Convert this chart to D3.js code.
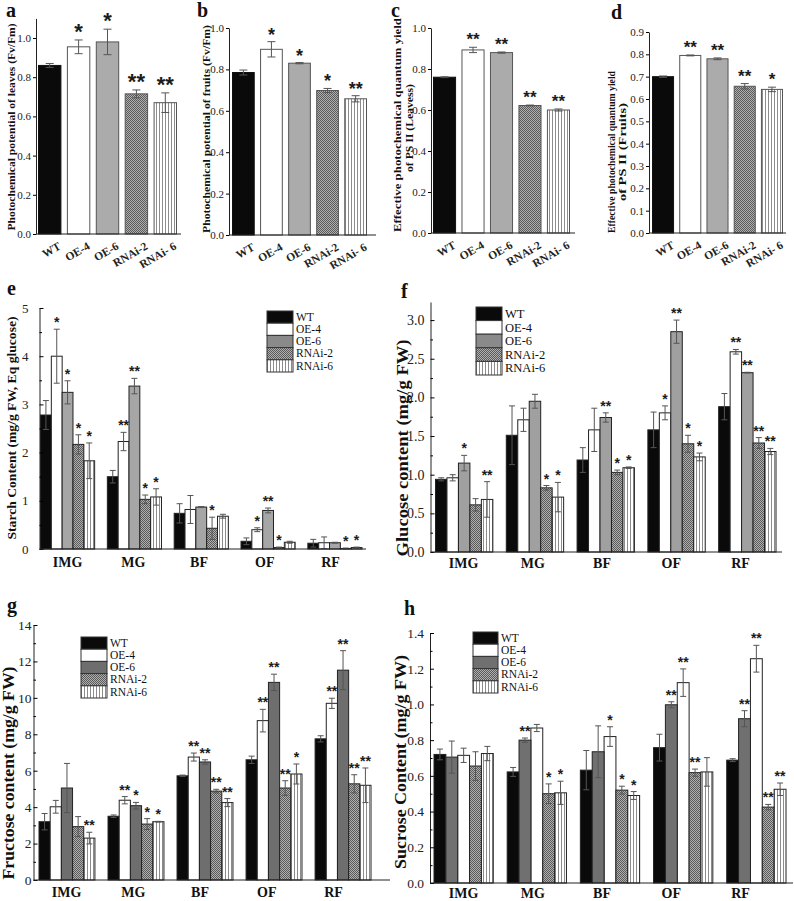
<!DOCTYPE html>
<html><head><meta charset="utf-8">
<script src="https://cdn.jsdelivr.net/npm/d3@7"></script>
<style>
body{margin:0;background:#fff}
svg{display:block}
text{font-family:"Liberation Serif","Times New Roman",serif;fill:#111}
.star{font-family:"Liberation Sans",Arial,sans-serif;font-weight:bold;fill:#1a1a1a;opacity:0.99}
</style>
</head><body>
<svg id="c" width="794" height="901"></svg>
<script>
// ---------------- DATA ----------------
const genotypes = ["WT","OE-4","OE-6","RNAi-2","RNAi-6"];
const genotypeTicks = ["WT","OE-4","OE-6","RNAi-2","RNAi- 6"];
const stages = ["IMG","MG","BF","OF","RF"];

// a: photochemical potential of leaves (Fv/Fm)
const fvfmLeaves    = [0.86, 0.955, 0.98, 0.715, 0.67];
const fvfmLeavesErr = [0.01, 0.035, 0.065, 0.02, 0.05];
const fvfmLeavesSig = ["", "*", "*", "**", "**"];
// b: photochemical potential of fruits (Fv/Fm)
const fvfmFruits    = [0.785, 0.897, 0.83, 0.698, 0.658];
const fvfmFruitsErr = [0.012, 0.037, 0.003, 0.01, 0.015];
const fvfmFruitsSig = ["", "*", "*", "*", "**"];
// c: effective quantum yield of PSII (leaves)
const psiiLeaves    = [0.76, 0.893, 0.88, 0.622, 0.60];
const psiiLeavesErr = [0.002, 0.013, 0.003, 0.002, 0.005];
const psiiLeavesSig = ["", "**", "**", "**", "**"];
// d: effective quantum yield of PSII (fruits)
const psiiFruits    = [0.70, 0.795, 0.78, 0.657, 0.643];
const psiiFruitsErr = [0.003, 0.002, 0.004, 0.012, 0.01];
const psiiFruitsSig = ["", "**", "**", "**", "*"];

// e: starch (rows = genotypes, columns = stages)
const starch = [
  [2.78, 1.50, 0.74, 0.16, 0.12],
  [4.00, 2.23, 0.82, 0.40, 0.13],
  [3.25, 3.38, 0.87, 0.80, 0.13],
  [2.17, 1.03, 0.43, 0.03, 0.01],
  [1.83, 1.08, 0.68, 0.14, 0.03]];
const starchErr = [
  [0.30, 0.13, 0.20, 0.07, 0.08],
  [0.56, 0.19, 0.29, 0.04, 0.12],
  [0.24, 0.16, 0.01, 0.05, 0.01],
  [0.20, 0.09, 0.23, 0.01, 0.01],
  [0.37, 0.17, 0.04, 0.02, 0.01]];
const starchSig = [
  ["", "", "", "", ""],
  ["*", "**", "", "*", ""],
  ["*", "**", "", "**", ""],
  ["*", "*", "*", "*", "*"],
  ["*", "*", "", "", "*"]];

// f: glucose
const glucose = [
  [0.94, 1.51, 1.19, 1.58, 1.88],
  [0.96, 1.71, 1.58, 1.80, 2.59],
  [1.15, 1.95, 1.74, 2.85, 2.32],
  [0.61, 0.83, 1.03, 1.40, 1.41],
  [0.68, 0.71, 1.09, 1.23, 1.30]];
const glucoseErr = [
  [0.02, 0.38, 0.16, 0.23, 0.17],
  [0.04, 0.15, 0.28, 0.09, 0.03],
  [0.10, 0.09, 0.06, 0.15, 0.005],
  [0.08, 0.03, 0.03, 0.11, 0.07],
  [0.23, 0.19, 0.01, 0.05, 0.04]];
const glucoseSig = [
  ["", "", "", "", ""],
  ["", "", "", "*", "**"],
  ["*", "", "**", "**", "**"],
  ["", "*", "*", "*", "**"],
  ["**", "*", "*", "*", "**"]];

// g: fructose
const fructose = [
  [3.20, 3.50, 5.72, 6.60, 7.75],
  [4.02, 4.38, 6.75, 8.75, 9.70],
  [5.05, 4.08, 6.48, 10.85, 11.52],
  [2.93, 3.07, 4.88, 5.05, 5.28],
  [2.30, 3.20, 4.25, 5.82, 5.20]];
const fructoseErr = [
  [0.45, 0.07, 0.04, 0.20, 0.17],
  [0.35, 0.20, 0.22, 0.62, 0.28],
  [1.35, 0.18, 0.12, 0.45, 1.07],
  [0.55, 0.30, 0.10, 0.40, 0.50],
  [0.32, 0.02, 0.22, 0.55, 0.95]];
const fructoseSig = [
  ["", "", "", "", ""],
  ["", "**", "**", "**", "**"],
  ["", "*", "**", "**", "**"],
  ["", "*", "**", "**", "**"],
  ["**", "*", "**", "*", "**"]];

// h: sucrose (bars drawn in order WT, OE-6, OE-4, RNAi-2, RNAi-6)
const sucroseOrder = ["WT","OE-6","OE-4","RNAi-2","RNAi-6"];
const sucrose = [
  [0.720, 0.622, 0.632, 0.758, 0.688],
  [0.715, 0.868, 0.820, 1.122, 1.256],
  [0.705, 0.800, 0.735, 0.998, 0.920],
  [0.655, 0.500, 0.520, 0.618, 0.425],
  [0.725, 0.505, 0.490, 0.622, 0.525]];
const sucroseErr = [
  [0.030, 0.025, 0.110, 0.075, 0.008],
  [0.040, 0.020, 0.055, 0.077, 0.075],
  [0.090, 0.012, 0.145, 0.017, 0.045],
  [0.080, 0.055, 0.022, 0.020, 0.015],
  [0.040, 0.065, 0.022, 0.080, 0.035]];
const sucroseSig = [
  ["", "", "", "", ""],
  ["", "", "*", "**", "**"],
  ["", "**", "", "**", "**"],
  ["", "*", "*", "**", "**"],
  ["", "*", "*", "", "**"]];

// ---------------- DRAWING ----------------
const svg = d3.select("#c");
const defs = svg.append("defs");
const pc = defs.append("pattern").attr("id","checker").attr("width",2).attr("height",2).attr("patternUnits","userSpaceOnUse");
pc.append("rect").attr("width",2).attr("height",2).attr("fill","#b0b0b0");
pc.append("rect").attr("width",1).attr("height",1).attr("fill","#5a5a5a");
pc.append("rect").attr("x",1).attr("y",1).attr("width",1).attr("height",1).attr("fill","#5a5a5a");
const pv = defs.append("pattern").attr("id","vlines").attr("width",3).attr("height",3).attr("patternUnits","userSpaceOnUse");
pv.append("rect").attr("width",3).attr("height",3).attr("fill","#fff");
pv.append("rect").attr("width",1).attr("height",3).attr("fill","#8c8c8c");

function fillOf(name, oe6){
  return {"WT":"#0a0a0a","OE-4":"#ffffff","OE-6":oe6,"RNAi-2":"url(#checker)","RNAi-6":"url(#vlines)"}[name];
}

function panelLabel(t,x,y){
  svg.append("text").attr("x",x).attr("y",y).attr("font-size",20).attr("font-weight","bold").text(t);
}

// lines: [{text, dx (offset across), len (text length)}]
function yTitle(lines, x, y, size){
  lines.forEach(l=>{
    svg.append("text").attr("transform",`translate(${x + (l.dx||0)},${y + (l.dy||0)}) rotate(-90)`)
      .attr("text-anchor","middle").attr("font-weight","bold").attr("font-size",size)
      .attr("textLength",l.len).attr("lengthAdjust","spacingAndGlyphs").text(l.text);
  });
}

function stars(g, x, y, s, size, off){
  g.append("text").attr("class","star").attr("x",x).attr("y",y - off).attr("text-anchor","middle")
    .attr("font-size",size).text(s);
}

function errBar(g, cx, y, v, e, cap, color){
  const y1 = y(v+e), y2 = y(v-e);
  g.append("line").attr("x1",cx).attr("x2",cx).attr("y1",y1).attr("y2",y2).attr("stroke",color);
  g.append("line").attr("x1",cx-cap).attr("x2",cx+cap).attr("y1",y1).attr("y2",y1).attr("stroke",color);
  g.append("line").attr("x1",cx-cap).attr("x2",cx+cap).attr("y1",y2).attr("y2",y2).attr("stroke",color);
}

function simplePanel(c){
  const g = svg.append("g");
  const y = d3.scaleLinear().domain([0,c.yMax]).range([c.bottom,c.top]);
  const x = d3.scaleBand().domain(genotypes).range(c.band).paddingInner(0.19).paddingOuter(0);
  g.selectAll("rect.bar").data(genotypes).join("rect").attr("class","bar")
    .attr("x",d=>x(d)+0.5).attr("width",x.bandwidth()-1)
    .attr("y",(d,i)=>y(c.values[i])).attr("height",(d,i)=>c.bottom-y(c.values[i]))
    .attr("fill",d=>fillOf(d,"#ababab")).attr("stroke",d=>d==="WT"?"#111":"#555").attr("stroke-width",1);
  genotypes.forEach((d,i)=>{
    const cx = x(d)+x.bandwidth()/2;
    errBar(g,cx,y,c.values[i],c.errs[i],4,"#555");
    if(c.sigs[i]) stars(g,cx,y(c.values[i]+c.errs[i]),c.sigs[i],c.starSize,c.starOff);
  });
  const ya = g.append("g").attr("transform",`translate(${c.left},0)`)
    .call(d3.axisLeft(y).tickValues(c.ticks).tickFormat(d3.format(".1f")).tickSize(3).tickSizeOuter(0).tickPadding(2));
  ya.selectAll("text").attr("font-size",11).attr("font-family","Liberation Serif, serif").style("fill","#222");
  ya.select(".domain").attr("stroke","#222");
  const xa = g.append("g").attr("transform",`translate(0,${c.bottom})`)
    .call(d3.axisBottom(x).tickSize(0).tickSizeOuter(0).tickFormat((d,i)=>genotypeTicks[i]));
  xa.select(".domain").remove();
  xa.selectAll(".tick text").attr("x",0).attr("y",0).attr("dy","0.35em")
    .attr("text-anchor","end").attr("font-size",11.5).attr("font-weight","bold")
    .attr("font-family","Liberation Serif, serif").style("fill","#222")
    .attr("transform","translate(10,11) rotate(-30)");
  g.append("line").attr("x1",c.left).attr("x2",c.right).attr("y1",c.bottom).attr("y2",c.bottom).attr("stroke","#222");
}

function groupPanel(c){
  const g = svg.append("g");
  const y = d3.scaleLinear().domain([0,c.yMax]).range([c.bottom,c.top]);
  const x0 = d3.scaleBand().domain(stages).range(c.band).paddingInner(0.19).paddingOuter(0);
  const x1 = d3.scaleBand().domain(c.order).range([0,x0.bandwidth()]);
  const lab = d3.scalePoint().domain(stages).range(c.labelRange);
  const data = [];
  genotypes.forEach((gn,gi)=>stages.forEach((s,si)=>data.push({g:gn,s:s,v:c.values[gi][si],e:c.errs[gi][si],sig:c.sigs[gi][si]})));
  g.selectAll("rect.bar").data(data).join("rect").attr("class","bar")
    .attr("x",d=>x0(d.s)+x1(d.g)).attr("width",x1.bandwidth())
    .attr("y",d=>y(d.v)).attr("height",d=>c.bottom-y(d.v))
    .attr("fill",d=>fillOf(d.g,c.oe6)).attr("stroke","#222").attr("stroke-width",1);
  data.forEach(d=>{
    const cx = x0(d.s)+x1(d.g)+x1.bandwidth()/2;
    errBar(g,cx,y,d.v,d.e,3,"#555");
    if(d.sig) stars(g,cx,y(d.v+d.e),d.sig,14,2);
  });
  const ya = g.append("g").attr("transform",`translate(${c.left},0)`)
    .call(d3.axisLeft(y).tickValues(c.ticks).tickFormat(c.fmt).tickSizeInner(-4).tickSizeOuter(0).tickPadding(c.pad));
  ya.selectAll("text").attr("font-size",c.tickFont).attr("font-family","Liberation Serif, serif").style("fill","#222");
  ya.select(".domain").attr("stroke","#222");
  const ym = g.append("g").attr("transform",`translate(${c.left},0)`)
    .call(d3.axisLeft(y).tickValues(c.minor).tickFormat("").tickSizeInner(-2.5).tickSizeOuter(0));
  ym.select(".domain").remove();
  const xa = g.append("g").attr("transform",`translate(0,${c.bottom})`)
    .call(d3.axisBottom(lab).tickSize(0).tickPadding(c.labPad));
  xa.select(".domain").remove();
  xa.selectAll("text").attr("font-size",14).attr("font-weight","bold").attr("font-family","Liberation Serif, serif").style("fill","#111");
  g.append("line").attr("x1",c.left).attr("x2",c.right).attr("y1",c.bottom).attr("y2",c.bottom).attr("stroke","#222");
  // legend
  const lg = g.append("g").attr("transform",`translate(${c.legend[0]},${c.legend[1]})`);
  genotypes.forEach((gn,i)=>{
    lg.append("rect").attr("x",0).attr("y",i*c.legRow).attr("width",c.legW).attr("height",c.legRow)
      .attr("fill",fillOf(gn,c.oe6Leg)).attr("stroke","#333");
    lg.append("text").attr("x",c.legW+3).attr("y",i*c.legRow+c.legRow/2).attr("dy","0.33em")
      .attr("font-size",c.legFont).text(gn);
  });
}

// ---- top row ----
simplePanel({values:fvfmLeaves,errs:fvfmLeavesErr,sigs:fvfmLeavesSig,left:36,right:181,bottom:234,top:18.4,yMax:1.1,
  band:[38,177],ticks:[0,0.2,0.4,0.6,0.8,1.0],starSize:22,starOff:1});
simplePanel({values:fvfmFruits,errs:fvfmFruitsErr,sigs:fvfmFruitsSig,left:229,right:376,bottom:235,top:28,yMax:1.0,
  band:[232,367],ticks:[0,0.2,0.4,0.6,0.8,1.0],starSize:18,starOff:1});
simplePanel({values:psiiLeaves,errs:psiiLeavesErr,sigs:psiiLeavesSig,left:431,right:575,bottom:233,top:28,yMax:1.0,
  band:[433,570],ticks:[0,0.2,0.4,0.6,0.8,1.0],starSize:17,starOff:2});
simplePanel({values:psiiFruits,errs:psiiFruitsErr,sigs:psiiFruitsSig,left:649,right:786,bottom:233,top:32,yMax:0.9,
  band:[652,783],ticks:d3.range(0,0.91,0.1),starSize:17,starOff:2});

yTitle([{text:"Photochemical potential of leaves (Fv/Fm)",len:207}],15,127,11);
yTitle([{text:"Photochemical potential of fruits (Fv/Fm)",len:208}],210,129,11);
yTitle([{text:"Effective photochemical quantum yield",len:214,dy:-3},
        {text:"of PS II (Leavess)",len:88,dx:12}],401,128,11);
yTitle([{text:"Effective photochemical quantum yield",len:162},
        {text:"of PS II (Fruits)",len:98,dx:11}],615,152,10.5);

panelLabel("a",6,17); panelLabel("b",197,17); panelLabel("c",391,17); panelLabel("d",611,19);

// ---- e ----
groupPanel({values:starch,errs:starchErr,sigs:starchSig,order:genotypes,oe6:"#a6a6a6",oe6Leg:"#8a8a8a",
  left:39.5,right:366,bottom:549,top:308,yMax:5,band:[40.5,362],labelRange:[67,330],
  ticks:[0,1,2,3,4,5],minor:d3.range(0.5,5,1),fmt:d3.format("d"),tickFont:13,pad:11,labPad:8,
  legend:[267,311],legRow:12.2,legW:26,legFont:11.5});
yTitle([{text:"Starch Content (mg/g FW, Eq glucose)",len:223}],16,428,13);
panelLabel("e",7,295);

// ---- f ----
groupPanel({values:glucose,errs:glucoseErr,sigs:glucoseSig,order:genotypes,oe6:"#a0a0a0",oe6Leg:"#8a8a8a",
  left:430.5,right:782,bottom:552,top:302,yMax:3.234,band:[435.5,776],labelRange:[463,740],
  ticks:[0,0.5,1,1.5,2,2.5,3],minor:d3.range(0.25,3.2,0.5),fmt:d3.format(".1f"),tickFont:14,pad:6,labPad:6,
  legend:[476,307],legRow:13.6,legW:26,legFont:12.5});
yTitle([{text:"Glucose content (mg/g FW)",len:217}],408,448,16);
panelLabel("f",401,298);

// ---- g ----
groupPanel({values:fructose,errs:fructoseErr,sigs:fructoseSig,order:genotypes,oe6:"#6e6e6e",oe6Leg:"#6e6e6e",
  left:33.5,right:390,bottom:880,top:625,yMax:14,band:[39,371],labelRange:[66,333],
  ticks:d3.range(0,15,2),minor:d3.range(1,14,2),fmt:d3.format("d"),tickFont:13.5,pad:2,labPad:7,
  legend:[81,637],legRow:12.2,legW:26,legFont:11.5});
yTitle([{text:"Fructose content (mg/g FW)",len:213}],14,773,16);
panelLabel("g",7,612);

// ---- h ----
groupPanel({values:sucrose,errs:sucroseErr,sigs:sucroseSig,order:sucroseOrder,oe6:"#707070",oe6Leg:"#707070",
  left:430,right:793,bottom:883,top:633,yMax:1.4,band:[434,786],labelRange:[463,740],
  ticks:d3.range(0,1.41,0.2),minor:d3.range(0.1,1.4,0.2),fmt:d3.format(".1f"),tickFont:13.5,pad:6,labPad:5,
  legend:[473,632],legRow:12.2,legW:25,legFont:11.5});
yTitle([{text:"Sucrose Content (mg/g FW)",len:214}],406,762,16);
panelLabel("h",404,615);
</script>
</body></html>
